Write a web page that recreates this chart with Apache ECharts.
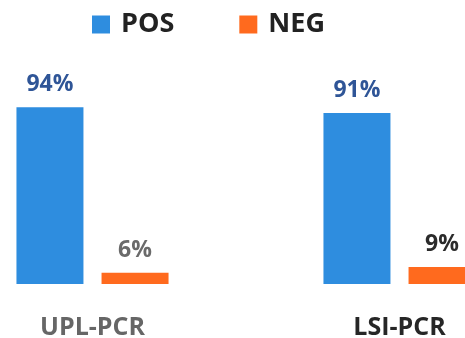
<!DOCTYPE html>
<html>
<head>
<meta charset="utf-8">
<style>
  html, body { margin: 0; padding: 0; background: #fff; }
  #chart { width: 465px; height: 338px; }
</style>
<script src="https://cdn.jsdelivr.net/npm/echarts@6/dist/echarts.min.js"></script>
</head>
<body>
<div id="chart"></div>
<script>
// Test methods and their positive / negative rates (%)
const categories = ['UPL-PCR', 'LSI-PCR'];
const posValues = [94, 91];
const negValues = [6, 9];
const seriesNames = ['POS', 'NEG'];

const FONT = '"Open Sans"';
const posColor = '#2e8ddf';
const negColor = '#ff6a1e';
const negLabelColors = ['#6a6a6a', '#2b2b2b'];
const catLabelColors = ['#666666', '#262626'];

const chart = echarts.init(document.getElementById('chart'));
chart.setOption({
  animation: false,
  backgroundColor: '#ffffff',
  textStyle: { fontFamily: FONT },
  legend: {
    data: seriesNames,
    left: 87,
    top: 6,
    itemWidth: 18,
    itemHeight: 18,
    itemGap: 65,
    icon: 'rect',
    textStyle: {
      fontFamily: FONT, fontWeight: 'bold', fontSize: 27, color: '#222222',
      padding: [0, 0, 0, 6]
    }
  },
  // the plot area runs past the right edge, so the second group is clipped
  grid: {
    left: -61, width: 614, top: 96, height: 188,
    containLabel: false,
    outerBoundsMode: 'none'
  },
  xAxis: {
    type: 'category',
    data: categories,
    axisLine: { show: false },
    axisTick: { show: false },
    axisLabel: {
      margin: 31,
      fontFamily: FONT,
      fontWeight: 'bold',
      fontSize: 25,
      color: function (v, i) { return catLabelColors[i]; }
    }
  },
  yAxis: {
    type: 'value',
    min: 0,
    max: 100,
    show: false,
    splitLine: { show: false }
  },
  series: [
    {
      name: seriesNames[0],
      type: 'bar',
      barWidth: 67,
      barGap: '27%',
      itemStyle: { color: posColor },
      data: posValues,
      label: {
        show: true,
        position: 'top',
        distance: 11,
        formatter: '{c}%',
        fontFamily: FONT,
        fontWeight: 'bold',
        fontSize: 23,
        color: '#2f5597'
      }
    },
    {
      name: seriesNames[1],
      type: 'bar',
      barWidth: 67,
      itemStyle: { color: negColor },
      data: negValues.map(function (v, i) {
        return { value: v, label: { color: negLabelColors[i] } };
      }),
      label: {
        show: true,
        position: 'top',
        distance: 11,
        formatter: '{c}%',
        fontFamily: FONT,
        fontWeight: 'bold',
        fontSize: 23
      }
    }
  ]
});
</script>
</body>
</html>
